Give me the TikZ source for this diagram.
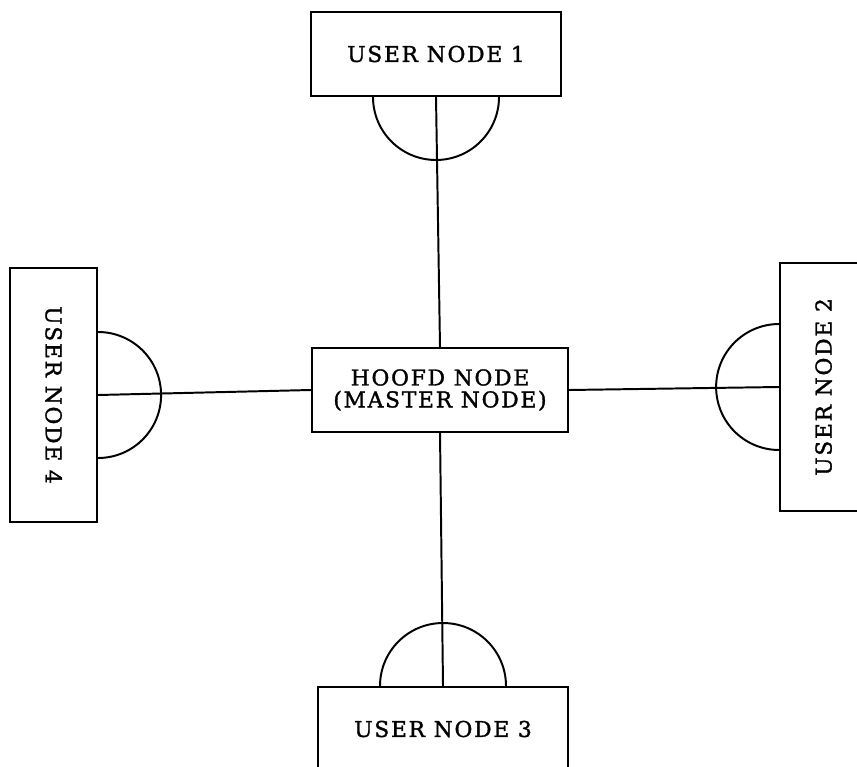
\documentclass[tikz,border=0pt]{standalone}
\usepackage{fontspec}
\newfontfamily\boxfont{DejaVu Serif}[LetterSpace=8, FakeBold=1.5]

\tikzset{
  unit/.style={draw, line width=1.4pt, minimum width=6.25cm, minimum height=2.1cm,
    font=\boxfont\fontsize{15.5}{15.6}\selectfont, align=center},
  link/.style={line width=1.4pt}
}

\begin{document}
\begin{tikzpicture}
  \clip (0,0) rectangle (21.425,-19.175);
  \node[unit, minimum width=6.4cm] (master) at (11.0,-9.75) {HOOFD NODE\\(MASTER NODE)};
  \node[unit] (user1) at (10.9,-1.35) {USER NODE 1};
  \node[unit, rotate=90, minimum width=6.2cm, minimum height=2.175cm] (user2) at (20.59,-9.675) {USER NODE 2};
  \node[unit] (user3) at (11.075,-18.225) {USER NODE 3};
  \node[unit, rotate=-90, minimum width=6.35cm, minimum height=2.175cm] (user4) at (1.34,-9.875) {USER NODE 4};

  \draw[link] (user1.south) -- (master.north);
  \draw[link] (master.east) -- (user2.north);
  \draw[link] (master.south) -- (user3.north);
  \draw[link] (user4.north) -- (master.west);

  \draw[link] (user1.south) ++(-1.575,0) arc[start angle=180, end angle=360, radius=1.575];
  \draw[link] (user2.north) ++(0,1.575) arc[start angle=90, end angle=270, radius=1.575];
  \draw[link] (user3.north) ++(1.575,0) arc[start angle=0, end angle=180, radius=1.575];
  \draw[link] (user4.north) ++(0,1.575) arc[start angle=90, end angle=-90, radius=1.575];
\end{tikzpicture}
\end{document}
